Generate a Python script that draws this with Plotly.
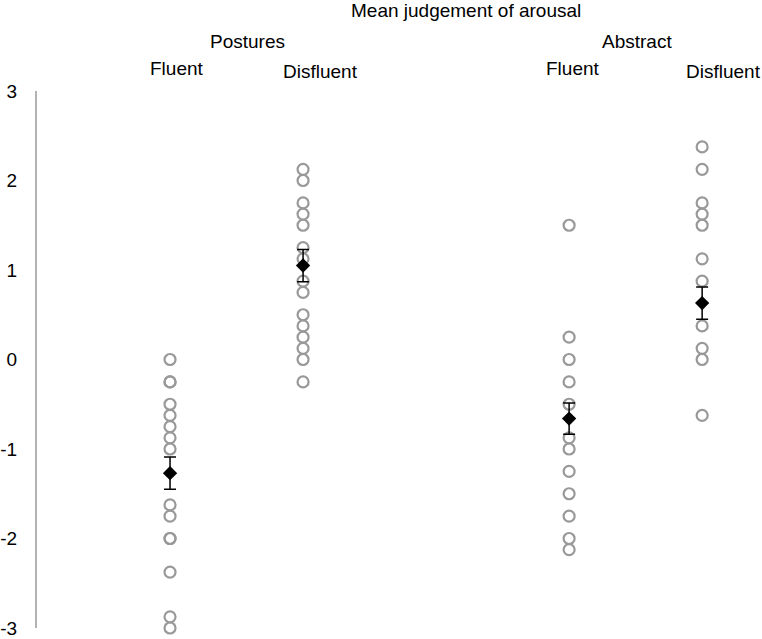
import plotly.graph_objects as go

# ---- data ----
group_positions = [1, 2, 4, 5]  # Postures-Fluent, Postures-Disfluent, Abstract-Fluent, Abstract-Disfluent
postures_fluent = [0, -0.25, -0.25, -0.5, -0.625, -0.75, -0.875, -1.0, -1.625, -1.75, -2.0, -2.0, -2.375, -2.875, -3.0]
postures_disfluent = [2.125, 2.0, 1.75, 1.625, 1.5, 1.25, 1.125, 0.875, 0.75, 0.5, 0.375, 0.25, 0.125, 0.0, -0.25]
abstract_fluent = [1.5, 0.25, 0.0, -0.25, -0.5, -0.875, -1.0, -1.25, -1.5, -1.75, -2.0, -2.125]
abstract_disfluent = [2.375, 2.125, 1.75, 1.625, 1.5, 1.125, 0.875, 0.375, 0.125, 0.0, -0.625]
group_means = [-1.27, 1.05, -0.66, 0.63]
group_errors = [0.18, 0.18, 0.175, 0.18]
y_ticks = [-3, -2, -1, 0, 1, 2, 3]
y_tick_text = ["-3", "-2", "-1", "0", "1", "2", "3"]

title_text = "Mean judgement of arousal"
group_labels = ["Postures", "Abstract"]
condition_labels = ["Fluent", "Disfluent", "Fluent", "Disfluent"]

FONT = "Liberation Sans, Arial, sans-serif"

fig = go.Figure()

series = [postures_fluent, postures_disfluent, abstract_fluent, abstract_disfluent]
for pos, vals in zip(group_positions, series):
    fig.add_trace(go.Scatter(
        x=[pos] * len(vals), y=vals, mode="markers",
        marker=dict(symbol="circle-open", size=11, color="#999999",
                    line=dict(width=2.2, color="#999999")),
        showlegend=False, cliponaxis=False, hoverinfo="y"))

fig.add_trace(go.Scatter(
    x=group_positions, y=group_means, mode="markers",
    marker=dict(symbol="diamond", size=11, color="black"),
    error_y=dict(type="data", array=group_errors, visible=True,
                 color="black", thickness=1.5, width=6),
    showlegend=False, cliponaxis=False))

# ---- text labels (paper coordinates) ----
annots = []
annots.append(dict(x=0.592, y=1.150, text=title_text))
annots.append(dict(x=0.290, y=1.093, text=group_labels[0]))
annots.append(dict(x=0.828, y=1.093, text=group_labels[1]))
for xx, yy, t in zip([0.193, 0.391, 0.739, 0.947], [1.041, 1.037, 1.041, 1.037], condition_labels):
    annots.append(dict(x=xx, y=yy, text=t))
for a in annots:
    a.update(xref="paper", yref="paper", showarrow=False, xanchor="center", yanchor="middle",
             font=dict(family=FONT, size=19, color="black"))

fig.update_layout(
    width=762, height=639,
    margin=dict(l=37, r=0, t=91, b=9),
    paper_bgcolor="white", plot_bgcolor="white",
    annotations=annots,
    xaxis=dict(range=[0, 5.45], showgrid=False, zeroline=False, showticklabels=False,
               showline=False, fixedrange=True),
    yaxis=dict(range=[-3, 3], tickvals=y_ticks, ticktext=y_tick_text, showgrid=False, zeroline=False,
               showline=True, linecolor="#b3b3b3", linewidth=2,
               ticks="", ticklabelstandoff=14, ticklabeloverflow="allow",
               tickfont=dict(family=FONT, size=19, color="black")),
)

fig.write_html("out.html")
